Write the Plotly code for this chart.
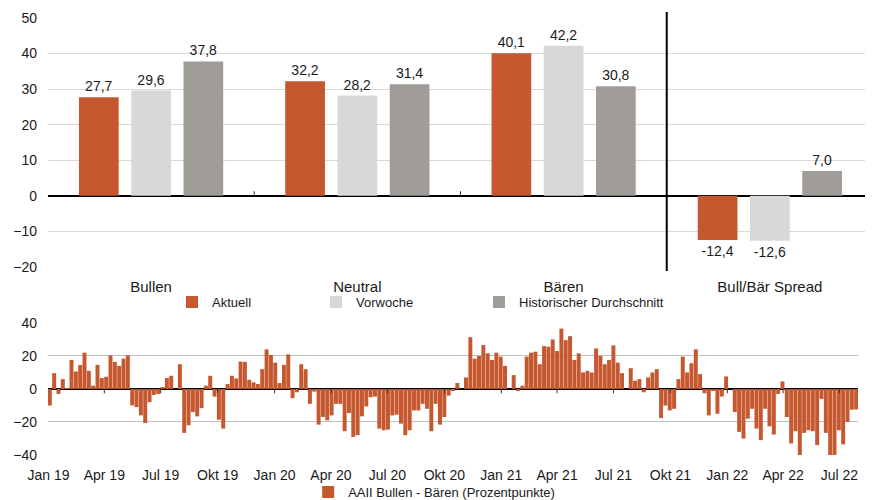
import pandas as pd
import plotly.graph_objects as go

# --- Daten -------------------------------------------------------------
kategorien = ["Bullen", "Neutral", "Bären", "Bull/Bär Spread"]
aktuell = [27.7, 32.2, 40.1, -12.4]
vorwoche = [29.6, 28.2, 42.2, -12.6]
historisch = [37.8, 31.4, 30.8, 7.0]

# AAII Bullen - Bären, wöchentlich ab 03.01.2019
spread_start = "2019-01-03"
spread_2019a = [-10, 9.6, -3, 6, 0.5, 17.6, 10.6, 14.5, 22, 11, 2, 14.6, 6.6, 7.4, 20.4, 16.4,
                14, 18.4, 20.4, -10, -11, -16, -20.6, -8, -3.6, -3, 1, 6.6, 8, 0, 15]
spread_2019b = [-26.6, -22, -14, -16.6, -11.6, 2, 8, -4.6, -18.6, -24, 3, 8, 6.4, 16.6, 16.4, 5.6,
                4, 3, 12, 24, 20.6, 16, 3.6, 14.6, 21, -5.6, -2, 15, 12, -9, -1.6]
spread_2020 = [-21.6, -17, -19, -16, -9, -9, -25.6, -14.6, -29, -28, -16.6, -10.6, -5, -4.6, -24,
               -25, -24.6, -16, -15.6, -21, -28, -25, -13, -13, -9, -12, -25.6, -9, -21.6, -17]
spread_2021a = [-4, -1, 3.6, 0, 7, 31.4, 18.4, 20, 26.6, 21.6, 17.6, 22, 19.6, 14, 0, 8.4, -1, 2,
                19.6, 22, 22.6, 15, 26, 25.6, 30, 23, 36.6, 29.6, 32, 17.6, 21.6, 10]
spread_2021b = [11, 10, 24.6, 20, 15, 17.6, 26.4, 16, 9.6, 0, 12.6, 5, 6, -2, 7, 10, 12, -17.6, -10,
                -13, -12, 6, 19.6, 10, 15.6, 24, 9, -2.6, -16, -1, -15]
spread_2022 = [-4.6, 7.6, 0, -14, -26, -30, -18, -12, -24, -31, -12, -22.6, -27.6, -3, 4.6, -17,
               -33, -25.6, -41, -26.6, -25, -25.6, -34, -6, -26.6, -40, -40, -25, -33.6, -20,
               -12.6, -12.4]
spread = spread_2019a + spread_2019b + spread_2020 + spread_2021a + spread_2021b + spread_2022

quartal_ticks = ["2019-01-01", "2019-04-01", "2019-07-01", "2019-10-01",
                 "2020-01-01", "2020-04-01", "2020-07-01", "2020-10-01",
                 "2021-01-01", "2021-04-01", "2021-07-01", "2021-10-01",
                 "2022-01-01", "2022-04-01", "2022-07-01"]
quartal_labels = ["Jan 19", "Apr 19", "Jul 19", "Okt 19", "Jan 20", "Apr 20", "Jul 20", "Okt 20",
                  "Jan 21", "Apr 21", "Jul 21", "Okt 21", "Jan 22", "Apr 22", "Jul 22"]

ORANGE = "#C5582E"
HELLGRAU = "#D9D8D6"
GRAU = "#A09C98"
FONT = "Arial, Liberation Sans, sans-serif"

wochen = pd.date_range(spread_start, periods=len(spread), freq="7D")

fig = go.Figure()

# je Serie eine eigene Legende, damit die Abstände wie im Original sitzen
serien = [("Aktuell", aktuell, ORANGE, "legend", 0.1896),
          ("Vorwoche", vorwoche, HELLGRAU, "legend2", 0.3561),
          ("Historischer Durchschnitt", historisch, GRAU, "legend3", 0.5445)]

for name, werte, farbe, leg, _ in serien:
    fig.add_trace(go.Bar(
        x=kategorien, y=werte, name=name,
        marker=dict(color=farbe, line=dict(width=0)),
        text=[f"{v:.1f}".replace(".", ",") for v in werte],
        texttemplate="%{text}", textposition="outside",
        textfont=dict(size=14, color="#1a1a1a"),
        cliponaxis=False, xaxis="x", yaxis="y", legend=leg,
    ))

fig.add_trace(go.Bar(
    x=wochen, y=spread, name="AAII Bullen - Bären (Prozentpunkte)",
    marker=dict(color=ORANGE, line=dict(width=0)),
    width=6.4 * 86400000,
    xaxis="x2", yaxis="y2", legend="legend4",
))

# Trennlinie und kleine Achsenstriche
shapes = [dict(type="line", xref="x", yref="paper", x0=2.5, x1=2.5, y0=0.4654, y1=0.9919,
               line=dict(color="black", width=2))]
for xb in [0.5, 1.5]:
    shapes.append(dict(type="line", xref="x", yref="y", x0=xb, x1=xb, y0=0, y1=1.3,
                       line=dict(color="#333", width=1)))
for t in quartal_ticks[1:]:
    shapes.append(dict(type="line", xref="x2", yref="y2", x0=t, x1=t, y0=0, y1=-2.6,
                       line=dict(color="#333", width=1)))

legenden = {}
for _, _, _, leg, lx in serien:
    legenden[leg] = dict(orientation="h", x=lx, xanchor="left", y=0.4024, yanchor="middle",
                         font=dict(size=13), bgcolor="rgba(0,0,0,0)")
legenden["legend4"] = dict(orientation="h", x=0.347, xanchor="left", y=0.0163, yanchor="middle",
                           font=dict(size=13), bgcolor="rgba(0,0,0,0)")

# Seite hat 8px Body-Rand -> Figur entsprechend kleiner
fig.update_layout(
    width=865, height=492,
    margin=dict(l=0, r=0, t=0, b=0, autoexpand=False),
    paper_bgcolor="white", plot_bgcolor="white",
    font=dict(family=FONT, size=14, color="#1a1a1a"),
    showlegend=True,
    barmode="group", bargap=0.24, bargroupgap=0.24,
    shapes=shapes,
    xaxis=dict(domain=[0.0462, 1.0], anchor="y", showgrid=False, ticks="",
               tickfont=dict(size=15), ticklabelstandoff=9, automargin=False),
    yaxis=dict(domain=[0.4736, 0.9797], range=[-20, 50], dtick=10,
               showgrid=True, gridcolor="#D9D9D9", gridwidth=1,
               zeroline=True, zerolinecolor="black", zerolinewidth=1.5,
               ticklabelstandoff=10, tickfont=dict(size=14), automargin=False),
    xaxis2=dict(domain=[0.0462, 0.9827], anchor="y2", type="date",
                range=["2018-12-31", "2022-07-31"],
                tickvals=quartal_ticks, ticktext=quartal_labels,
                showgrid=False, ticks="", tickfont=dict(size=14), ticklabelstandoff=10,
                automargin=False),
    yaxis2=dict(domain=[0.0915, 0.3598], range=[-40, 40], dtick=20,
                showgrid=True, gridcolor="#BFBFBF", gridwidth=1,
                zeroline=True, zerolinecolor="black", zerolinewidth=1.5,
                ticklabelstandoff=10, tickfont=dict(size=14), automargin=False),
    **legenden,
)

fig.write_html("out.html")
